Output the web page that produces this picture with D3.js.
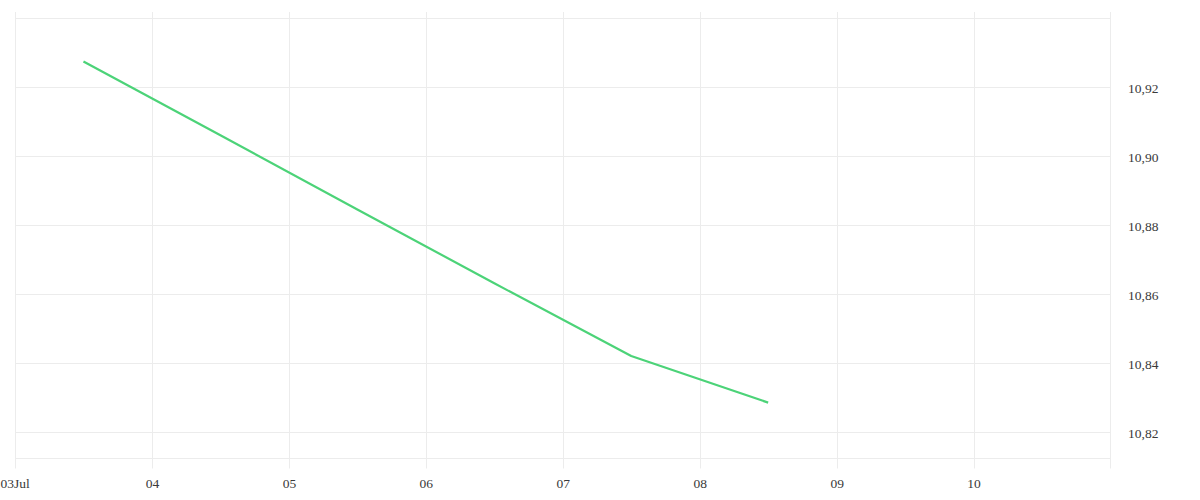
<!DOCTYPE html>
<html>
<head>
<meta charset="utf-8">
<script src="https://cdn.jsdelivr.net/npm/d3@7"></script>
<style>
  html, body { margin: 0; padding: 0; background: #fff; }
  svg { display: block; }
  .tick text { font-family: "Liberation Serif", serif; font-size: 13.5px; fill: #3a3a3a; }
</style>
</head>
<body>
<svg id="chart" width="1200" height="500"></svg>
<script>
const dates = ["2024-07-03T12:00", "2024-07-04T12:00", "2024-07-05T12:00", "2024-07-06T12:00", "2024-07-07T12:00", "2024-07-08T12:00"];
const values = [10.9274, 10.906, 10.8845, 10.8631, 10.842, 10.8285];
const yTicks = [10.82, 10.84, 10.86, 10.88, 10.90, 10.92, 10.94];
const xTickDays = ["2024-07-03", "2024-07-04", "2024-07-05", "2024-07-06", "2024-07-07", "2024-07-08", "2024-07-09", "2024-07-10"];
const xDomain = ["2024-07-03", "2024-07-11"];
const yDomain = [10.8123, 10.94];

const parse = d3.timeParse("%Y-%m-%dT%H:%M");
const parseDay = d3.timeParse("%Y-%m-%d");
const data = dates.map((d, i) => ({ t: parse(d), v: values[i] }));

const svg = d3.select("#chart");
const mLeft = 15, mRight = 1110.5, mTop = 18, mBottom = 458.5;

const x = d3.scaleTime().domain(xDomain.map(parseDay)).range([mLeft, mRight]);
const y = d3.scaleLinear().domain(yDomain).range([mBottom, mTop]);

const grid = svg.append("g");
grid.selectAll("line.h").data(yTicks).join("line")
  .attr("x1", mLeft).attr("x2", mRight)
  .attr("y1", d => Math.round(y(d)) + 0.5).attr("y2", d => Math.round(y(d)) + 0.5)
  .attr("stroke", "#ececec").attr("stroke-width", 1);
grid.append("line")
  .attr("x1", mLeft).attr("x2", mRight)
  .attr("y1", mBottom).attr("y2", mBottom)
  .attr("stroke", "#ececec");
const xt = xTickDays.map(parseDay);
grid.selectAll("line.v").data(xt).join("line")
  .attr("x1", d => Math.round(x(d)) + 0.5).attr("x2", d => Math.round(x(d)) + 0.5)
  .attr("y1", mTop - 6).attr("y2", mBottom + 10)
  .attr("stroke", "#ececec");
grid.append("line")
  .attr("x1", mRight).attr("x2", mRight)
  .attr("y1", mTop - 6).attr("y2", mBottom + 10)
  .attr("stroke", "#ececec");

const fmt = d => d.getDate() === 3 ? "03Jul" : d3.timeFormat("%d")(d);
const xAxis = d3.axisBottom(x).tickValues(xt).tickFormat(fmt).tickSize(0).tickPadding(0);
const gx = svg.append("g").attr("transform", `translate(0,${mBottom + 20})`).call(xAxis);
gx.select(".domain").remove();
gx.selectAll(".tick text").attr("dy", "0.71em")
  .attr("text-anchor", (d, i) => i === 0 ? "start" : "middle")
  .attr("dx", (d, i) => i === 0 ? -15 : 0);

const yAxis = d3.axisRight(y).tickValues(yTicks.filter(v => v < 10.935))
  .tickFormat(d => d3.format(".2f")(d).replace(".", ",")).tickSize(0).tickPadding(0);
const gy = svg.append("g").attr("transform", `translate(${mRight + 17.5},1.5)`).call(yAxis);
gy.select(".domain").remove();

const line = d3.line().x(d => x(d.t)).y(d => y(d.v));
svg.append("path").datum(data)
  .attr("d", line)
  .attr("fill", "none")
  .attr("stroke", "#4cd378")
  .attr("stroke-width", 2.2)
  .attr("stroke-linejoin", "round");
</script>
</body>
</html>
